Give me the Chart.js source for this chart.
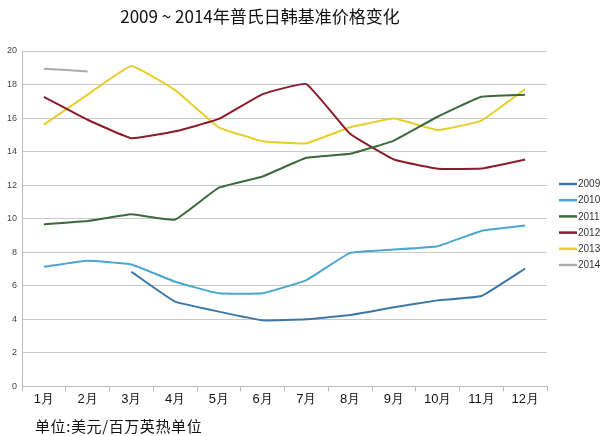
<!DOCTYPE html>
<html><head><meta charset="utf-8">
<script src="https://cdn.jsdelivr.net/npm/chart.js@4/dist/chart.umd.min.js"></script>
<style>html,body{margin:0;padding:0;background:#fff}#c{width:600px;height:436px}</style>
</head><body><div id="c"><canvas id="cv" width="600" height="436"></canvas></div>
<script>
const months = ["1月","2月","3月","4月","5月","6月","7月","8月","9月","10月","11月","12月"];
const yTicks = [0,2,4,6,8,10,12,14,16,18,20];
const s2009 = [null,null,6.83,5.05,4.46,3.94,4.0,4.26,4.72,5.13,5.39,7.03];
const s2010 = [7.13,7.49,7.27,6.24,5.55,5.55,6.34,7.96,8.16,8.36,9.27,9.59];
const s2011 = [9.67,9.86,10.26,9.95,11.85,12.52,13.63,13.87,14.66,16.08,17.27,17.39];
const s2012 = [17.27,15.9,14.8,15.21,15.95,17.43,18.03,15.06,13.53,12.98,12.99,13.53];
const s2013 = [15.61,17.4,19.11,17.67,15.45,14.62,14.5,15.45,15.97,15.29,15.85,17.73];
const s2014 = [18.94,18.78,null,null,null,null,null,null,null,null,null,null];
const seriesNames = ["2009","2010","2011","2012","2013","2014"];
const seriesData = [s2009,s2010,s2011,s2012,s2013,s2014];
const colors = ["#3b78a8","#4aa6cf","#3b6a3a","#8c1c2c","#e6cf2e","#a9acae"];
const titleText = "2009 ~ 2014年普氏日韩基准价格变化";
const noteText = "单位:美元/百万英热单位";

const textPlugin = {
  id:'texts',
  afterDraw(chart){
    const ctx = chart.ctx;
    ctx.save();
    ctx.fillStyle = '#111';
    ctx.font = '17px "Noto Sans CJK SC", "Liberation Sans", sans-serif';
    ctx.textAlign = 'center';
    ctx.textBaseline = 'middle';
    ctx.fillText(titleText, 260, 17);
    ctx.font = '15px "Noto Sans CJK SC", sans-serif';
    try { ctx.letterSpacing = '0.6px'; } catch(e) {}
    ctx.textAlign = 'left';
    ctx.fillText(noteText, 35, 426);
    try { ctx.letterSpacing = '0px'; } catch(e) {}
    // legend
    ctx.font = '10px "Liberation Sans", Arial, sans-serif';
    chart.data.datasets.forEach((ds, i) => {
      const y = 184 + i * 16.2;
      ctx.strokeStyle = ds.borderColor;
      ctx.lineWidth = 2.5;
      ctx.beginPath(); ctx.moveTo(559, y); ctx.lineTo(577, y); ctx.stroke();
      ctx.fillStyle = '#333';
      ctx.fillText(ds.label, 578, y + 0.5);
    });
    ctx.restore();
  }
};

new Chart(document.getElementById('cv'), {
  type:'line',
  data:{
    labels: months,
    datasets: seriesNames.map((n,i)=>({
      label:n, data:seriesData[i], borderColor:colors[i], backgroundColor:colors[i],
      borderWidth:2, pointRadius:0, tension:0.1, fill:false, spanGaps:false
    }))
  },
  options:{
    responsive:false, animation:false, devicePixelRatio:1,
    layout:{padding:{top:51,bottom:29,left:2,right:53}},
    plugins:{
      legend:{display:false},
      title:{display:false}, tooltip:{enabled:false}
    },
    scales:{
      x:{offset:true,
        grid:{display:true, drawOnChartArea:false, offset:true, tickLength:5, color:'#bbb'},
        border:{color:'#bbb'},
        ticks:{color:'#111', font:{size:13, family:'"Liberation Sans", Arial, sans-serif'}, padding:0, maxRotation:0}},
      y:{min:0,max:20,
        afterBuildTicks(axis){ axis.ticks = yTicks.map(v=>({value:v})); },
        grid:{color:'#c8c8c8', drawTicks:false},
        border:{color:'#bbb'},
        ticks:{color:'#444', font:{size:9, family:'"Liberation Sans", Arial, sans-serif'}, padding:5}}
    }
  },
  plugins:[textPlugin]
});
</script></body></html>
